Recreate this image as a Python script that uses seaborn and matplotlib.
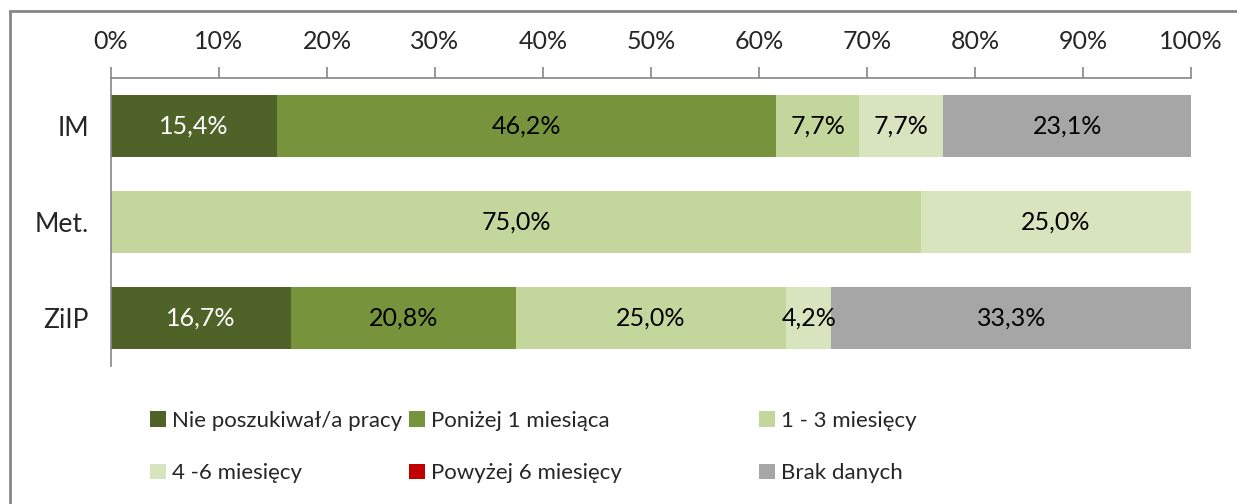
import pandas as pd
import seaborn as sns
import matplotlib.pyplot as plt
from matplotlib.patches import Patch, Rectangle

categories = ["IM", "Met.", "ZiIP"]
series = ["Nie poszukiwał/a pracy", "Poniżej 1 miesiąca", "1 - 3 miesięcy",
          "4 -6 miesięcy", "Powyżej 6 miesięcy", "Brak danych"]
colors = ["#4F6228", "#77933C", "#C3D69B", "#D7E4BD", "#C00000", "#A6A6A6"]
label_colors = ["white", "black", "black", "black", "black", "black"]

nie_poszukiwal = [15.4, 0.0, 16.7]
ponizej_1 = [46.2, 0.0, 20.8]
od_1_do_3 = [7.7, 75.0, 25.0]
od_4_do_6 = [7.7, 25.0, 4.2]
powyzej_6 = [0.0, 0.0, 0.0]
brak_danych = [23.1, 0.0, 33.3]

xticks = [0, 10, 20, 30, 40, 50, 60, 70, 80, 90, 100]

values = [nie_poszukiwal, ponizej_1, od_1_do_3, od_4_do_6, powyzej_6, brak_danych]

# --- long dataframe with cumulative ends ---
rows = []
for ci, cat in enumerate(categories):
    cum = 0.0
    for si, s in enumerate(series):
        v = values[si][ci]
        cum += v
        rows.append({"kierunek": cat, "seria": s, "value": v, "cum": cum, "si": si})
df = pd.DataFrame(rows)

sns.set_style("white")
plt.rcParams["font.family"] = ["Lato", "DejaVu Sans"]
FS = 18
GRAY = "#868686"

fig = plt.figure(figsize=(12.37, 5.04), dpi=100)
ax = fig.add_axes([111 / 1237, 1 - 366 / 504, 1080 / 1237, 288 / 504])

# stacked bars: draw cumulative totals from last series to first
for si in reversed(range(len(series))):
    sub = df[df["si"] == si]
    sns.barplot(data=sub, x="cum", y="kierunek", order=categories, color=colors[si],
                orient="h", width=0.65, errorbar=None, saturation=1,
                linewidth=0, ax=ax)

# value labels
for _, r in df.iterrows():
    if r["value"] > 0:
        ax.text(r["cum"] - r["value"] / 2, categories.index(r["kierunek"]),
                f"{r['value']:.1f}%".replace(".", ","), ha="center", va="center",
                fontsize=FS, color=label_colors[int(r["si"])])

ax.set_xlim(0, 100)
ax.set_ylim(2.5, -0.5)
ax.set_xlabel("")
ax.set_ylabel("")

ax.xaxis.tick_top()
ax.set_xticks(xticks)
ax.set_xticklabels([f"{t}%" for t in xticks])
ax.tick_params(axis="x", which="major", direction="out", length=8, width=1.2,
               color=GRAY, labelsize=FS, pad=10)

ax.set_yticks(range(len(categories)))
ax.set_yticklabels(categories)
ax.set_yticks([-0.5, 0.5, 1.5, 2.5], minor=True)
ax.tick_params(axis="y", which="major", length=0, labelsize=19, pad=16)
ax.tick_params(axis="y", which="minor", direction="out", length=9, width=1.2, color=GRAY)

for side in ["right", "bottom"]:
    ax.spines[side].set_visible(False)
for side in ["left", "top"]:
    ax.spines[side].set_color(GRAY)
    ax.spines[side].set_linewidth(1.2)

# chart border (partially outside the picture)
fig.add_artist(Rectangle((10 / 1237, -0.2), 1.5, 1.2 - 11 / 504,
                         transform=fig.transFigure, fill=False,
                         edgecolor=GRAY, linewidth=2))

# legend, three columns placed separately
col_x = [150, 409, 759]
for c in range(3):
    idx = [c, c + 3]
    handles = [Patch(facecolor=colors[i], edgecolor="none") for i in idx]
    fig.legend(handles, [series[i] for i in idx], loc="upper left",
               bbox_to_anchor=(col_x[c] / 1237, 1 - 411 / 504),
               frameon=False, fontsize=16, handlelength=0.7, handleheight=0.7,
               handletextpad=0.3, labelspacing=1.45, borderpad=0, borderaxespad=0)

fig.savefig("out.png", dpi=100)
